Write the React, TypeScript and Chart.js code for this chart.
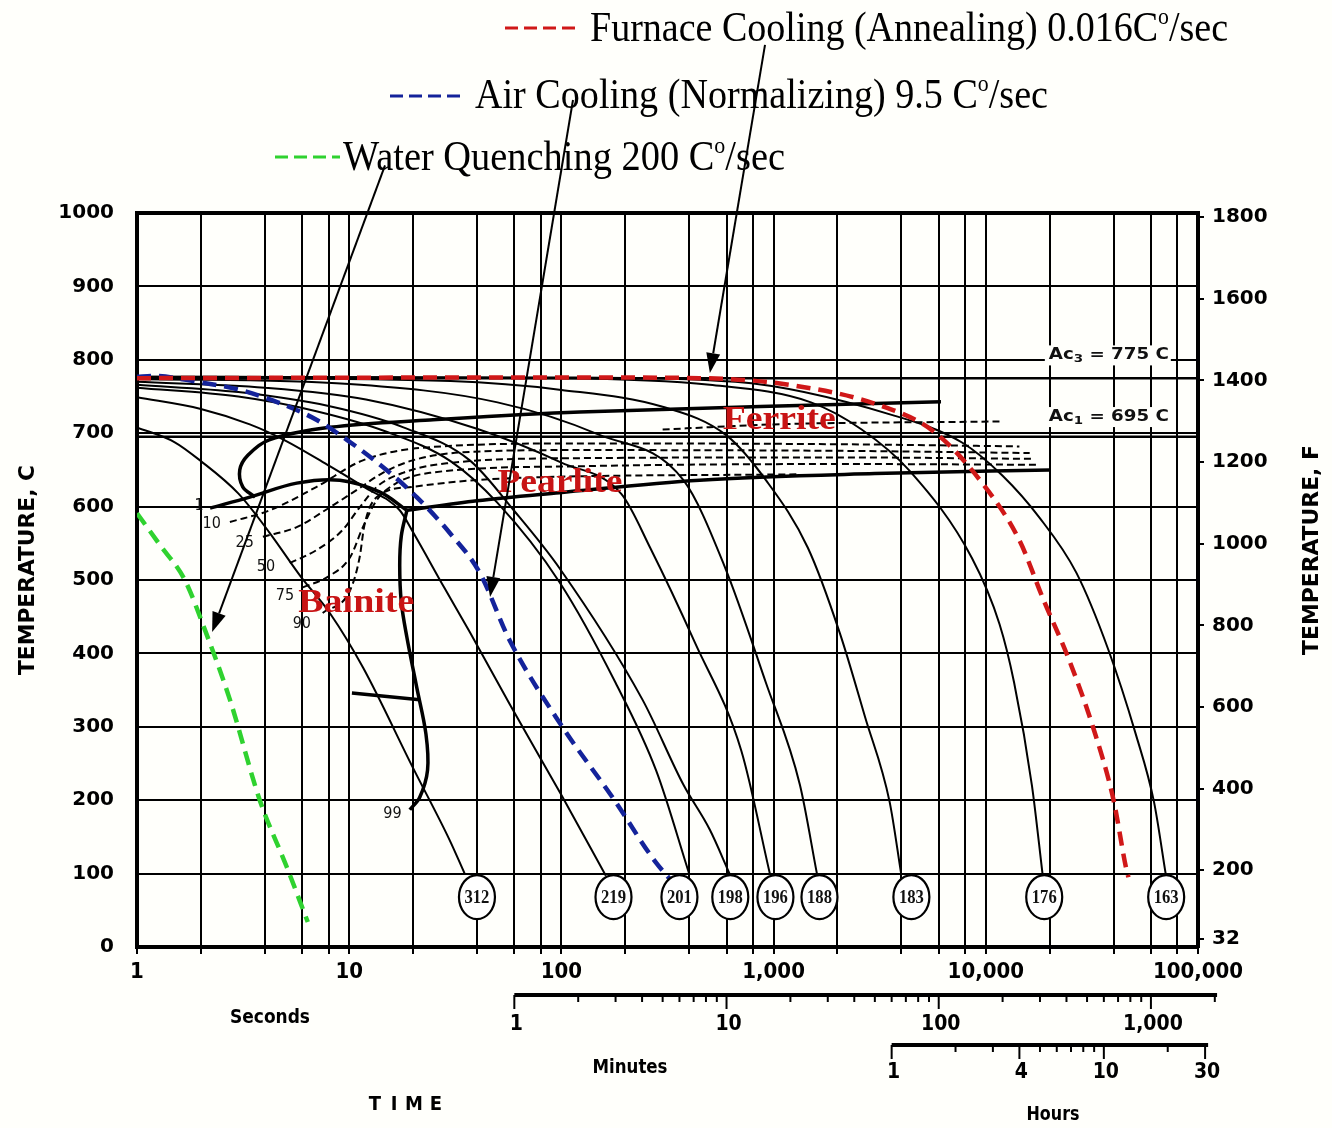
import { useEffect, useRef } from 'react';
import { Chart, registerables } from 'chart.js';

Chart.register(...registerables);

type Pt = [number, number];

// ---------- axes ----------
const timeGridSeconds = [1, 2, 4, 6, 8, 10, 20, 40, 60, 80, 100, 200, 400, 600, 800, 1000, 2000, 4000, 6000, 8000, 10000, 20000, 40000, 60000, 80000, 100000];
const decadeSeconds = [1, 10, 100, 1000, 10000, 100000];
const decadeLabels = ['1', '10', '100', '1,000', '10,000', '100,000'];
const celsiusTicks = [0, 100, 200, 300, 400, 500, 600, 700, 800, 900, 1000];
const fahrenheitTicks = [32, 200, 400, 600, 800, 1000, 1200, 1400, 1600, 1800];
const fahrenheitMin = 12;
const fahrenheitMax = 1810;
const minuteTicks = [1, 2, 3, 4, 5, 6, 7, 8, 9, 10, 20, 30, 40, 50, 60, 70, 80, 90, 100, 200, 300, 400, 500, 600, 700, 800, 900, 1000, 2000];
const minuteLabelValues = [1, 10, 100, 1000];
const minuteLabels = ['1', '10', '100', '1,000'];
const hourTicks = [1, 2, 3, 4, 5, 6, 7, 8, 9, 10, 20, 30];
const hourLabelValues = [1, 4, 10, 30];
const hourLabels = ['1', '4', '10', '30'];

// ---------- cooling paths [time s, temp C] ----------
const furnaceCooling: Pt[] = [[1, 775], [100, 776], [447, 775], [1180, 766], [3160, 738], [5700, 702], [9800, 629], [14400, 554], [18700, 473], [24700, 391], [32300, 296], [40000, 200], [45800, 108], [47000, 95]];
const airCooling: Pt[] = [[1, 777], [1.2, 778], [1.92, 770], [3.05, 759], [4.71, 741], [7.04, 718], [9.75, 691], [14.4, 654], [20.8, 613], [29.8, 564], [41.2, 510], [57, 418], [101, 300], [174, 204], [281, 114], [433, 55]];
const waterQuench: Pt[] = [[1, 591], [1.28, 548], [1.68, 500], [2.09, 432], [2.74, 337], [3.79, 200], [5.08, 109], [6.38, 34]];

const cooling312: Pt[] = [[1, 708], [1.5, 688], [2, 662], [3, 618], [4.2, 565], [5.9, 505], [8.1, 455], [11.6, 381], [19.9, 245], [29.7, 146], [35, 100]];
const cooling219: Pt[] = [[1, 749], [2, 733], [3.4, 712], [5, 690], [8.1, 655], [12, 625], [17.3, 595], [20, 565], [28, 490], [37, 429], [57, 331], [100, 207], [162, 97]];
const cooling201: Pt[] = [[1, 762], [3, 750], [7, 730], [15, 702], [30, 662], [50, 605], [98, 497], [180, 360], [280, 240], [400, 100]];
const cooling198: Pt[] = [[1, 766], [3, 756], [8, 737], [18, 708], [37, 663], [60, 594], [98, 516], [241, 337], [376, 221], [500, 160], [620, 100]];
const cooling196: Pt[] = [[1, 770], [4, 762], [12, 746], [40, 706], [100, 660], [192, 617], [262, 544], [427, 414], [705, 267], [960, 100]];
const cooling188: Pt[] = [[1, 774], [10, 767], [50, 742], [150, 698], [376, 636], [585, 520], [920, 360], [1330, 221], [1600, 100]];
const cooling183: Pt[] = [[1, 776], [30, 771], [100, 759], [300, 736], [600, 697], [920, 636], [1450, 544], [2050, 428], [2700, 313], [3520, 198], [3990, 100]];
const cooling176: Pt[] = [[1, 777], [100, 775], [500, 766], [1500, 742], [2600, 705], [4400, 648], [8600, 530], [11600, 440], [13600, 360], [16500, 220], [18500, 100]];
const cooling163: Pt[] = [[1, 777], [100, 776], [660, 770], [3600, 725], [7760, 687], [12000, 642], [17900, 585], [26700, 510], [37800, 405], [50900, 290], [62000, 198], [70400, 100]];

// ---------- transformation lines ----------
const ferriteStart: Pt[] = [[6150, 743], [122, 729], [24, 718], [8.1, 708], [4.2, 691], [3.33, 670], [3.05, 650], [3.15, 627], [3.6, 613]];
const bainiteStart: Pt[] = [[2.21, 598], [3.4, 613], [5.66, 632], [9.03, 636], [13.9, 620], [18.7, 595]];
const bainiteFinish: Pt[] = [[18.7, 595], [17.6, 560], [17.3, 520], [17.6, 470], [18.7, 422], [20.8, 354], [23, 290], [23.4, 241], [21.5, 204], [19.3, 187]];
const pearliteFinish: Pt[] = [[18.7, 595], [40, 608], [98, 619], [448, 636], [3000, 645], [20000, 650]];
const martensiteStart: Pt[] = [[10.3, 346], [21.5, 337]];
const ferriteDashed: Pt[] = [[300, 705], [1000, 712], [11600, 716]];
const pct10: Pt[] = [[2.74, 579], [4.23, 595], [7.03, 627], [11.6, 663], [24, 681], [122, 686], [2000, 685], [14400, 682]];
const pct25: Pt[] = [[3.92, 559], [5.66, 572], [8.1, 599], [10.9, 623], [14.4, 646], [19.9, 663], [34.3, 674], [122, 677], [2000, 676], [16100, 673]];
const pct50: Pt[] = [[5.25, 523], [7.04, 541], [9.3, 568], [11.2, 599], [13.5, 627], [17.9, 646], [28.8, 659], [122, 666], [2000, 667], [16900, 665]];
const pct75: Pt[] = [[6.05, 490], [8, 505], [10.1, 531], [11.6, 572], [13.5, 609], [16.7, 632], [24, 646], [122, 655], [2000, 658], [17900, 657]];
const pct90: Pt[] = [[7.5, 455], [10.1, 486], [11.2, 531], [11.8, 575], [13.5, 613], [19.9, 627], [51, 638], [1326, 644]];
const ac3Line: Pt[] = [[1, 775], [100000, 775]];
const ac1Line: Pt[] = [[1, 695], [100000, 695]];

// ---------- annotations ----------
const hardnessValues = ['312', '219', '201', '198', '196', '188', '183', '176', '163'];
const hardnessTimes = [40, 176, 360, 625, 1020, 1645, 4460, 18850, 70800];
const hardnessTemp = 68;
const pctLabels = ['1', '10', '25', '50', '75', '90', '99'];
const pctLabelPos: Pt[] = [[1.96, 601], [2.25, 577], [3.22, 550], [4.05, 518], [4.98, 478], [5.98, 440], [16.0, 181]];
const phaseNames = ['Ferrite', 'Pearlite', 'Bainite'];
const phasePos: Pt[] = [[1063, 718], [98.4, 632], [10.8, 469]];
const phaseWidths = [113, 125, 116];
const acSubs = ['3', '1'];
const acRest = [' = 775 C', ' = 695 C'];
const acLabelTemps = [806, 722];
const acLabelTime = 38000;
const legendTexts = ['Furnace Cooling (Annealing) 0.016C', 'Air Cooling (Normalizing) 9.5 C', 'Water Quenching 200 C'];
const legendColors = ['#d01818', '#14239a', '#2fd22f'];
const arrowStarts: Pt[] = [[911, 1229], [113.4, 1154], [14.75, 1065]];
const arrowTips: Pt[] = [[501, 782], [46.1, 477], [2.26, 429]];

const SANS = "'DejaVu Sans', Verdana, sans-serif";
const COND = "'DejaVu Sans Condensed', 'Liberation Sans Narrow', 'DejaVu Sans', sans-serif";
const SERIF = "'Liberation Serif', 'Times New Roman', serif";

function toXY(pts: Pt[]) {
  return pts.map(([t, T]) => ({ x: t, y: T }));
}

function line(data: Pt[], color: string, width: number, dash: number[], order: number, tension = 0.3, monotone = false) {
  return {
    data: toXY(data),
    borderColor: color,
    backgroundColor: color,
    borderWidth: width,
    borderDash: dash,
    showLine: true,
    pointRadius: 0,
    fill: false,
    tension,
    cubicInterpolationMode: monotone ? 'monotone' : 'default',
    order,
  };
}

function fitText(ctx: CanvasRenderingContext2D, text: string, cx: number, cy: number, width: number, font: string, color = '#000') {
  ctx.save();
  ctx.font = font;
  ctx.fillStyle = color;
  ctx.textBaseline = 'middle';
  ctx.textAlign = 'center';
  const w = ctx.measureText(text).width;
  ctx.translate(cx, cy);
  ctx.scale(width / w, 1);
  ctx.fillText(text, 0, 0);
  ctx.restore();
}

function drawArrow(ctx: CanvasRenderingContext2D, x0: number, y0: number, x1: number, y1: number) {
  const a = Math.atan2(y1 - y0, x1 - x0);
  const L = 20, W = 7;
  const bx = x1 - L * Math.cos(a), by = y1 - L * Math.sin(a);
  ctx.save();
  ctx.strokeStyle = '#000';
  ctx.fillStyle = '#000';
  ctx.lineWidth = 2;
  ctx.beginPath();
  ctx.moveTo(x0, y0);
  ctx.lineTo(bx, by);
  ctx.stroke();
  ctx.beginPath();
  ctx.moveTo(x1, y1);
  ctx.lineTo(bx + W * Math.sin(a), by - W * Math.cos(a));
  ctx.lineTo(bx - W * Math.sin(a), by + W * Math.cos(a));
  ctx.closePath();
  ctx.fill();
  ctx.restore();
}

const annotationPlugin = {
  id: 'cctAnnotations',
  beforeDraw(chart: any) {
    const { ctx, width, height } = chart;
    ctx.save();
    ctx.fillStyle = '#fffffb';
    ctx.fillRect(0, 0, width, height);
    ctx.restore();
  },
  afterDatasetsDraw(chart: any) {
    const { ctx } = chart;
    const x = chart.scales.x;
    const y = chart.scales.y;

    phaseNames.forEach((n, i) => {
      fitText(ctx, n, x.getPixelForValue(phasePos[i][0]), y.getPixelForValue(phasePos[i][1]), phaseWidths[i], `bold 34px ${SERIF}`, '#c81414');
    });

    pctLabels.forEach((n, i) => {
      ctx.save();
      ctx.font = `16px ${COND}`;
      ctx.fillStyle = '#111';
      ctx.textAlign = 'center';
      ctx.textBaseline = 'middle';
      ctx.fillText(n, x.getPixelForValue(pctLabelPos[i][0]), y.getPixelForValue(pctLabelPos[i][1]));
      ctx.restore();
    });

    acSubs.forEach((s, i) => {
      const cx = x.getPixelForValue(acLabelTime);
      const cy = y.getPixelForValue(acLabelTemps[i]);
      ctx.save();
      ctx.fillStyle = '#fffffb';
      ctx.fillRect(cx - 64, cy - 10, 126, 20);
      const f = `bold 15px ${COND}`;
      const fs = `bold 11px ${COND}`;
      ctx.font = f;
      const w1 = ctx.measureText('Ac').width;
      const w3 = ctx.measureText(acRest[i]).width;
      ctx.font = fs;
      const w2 = ctx.measureText(s).width;
      const total = w1 + w2 + w3;
      const sc = 120 / total;
      ctx.translate(cx - 60, cy);
      ctx.scale(sc, 1);
      ctx.fillStyle = '#111';
      ctx.textBaseline = 'middle';
      ctx.textAlign = 'left';
      ctx.font = f;
      ctx.fillText('Ac', 0, 0);
      ctx.font = fs;
      ctx.fillText(s, w1, 4);
      ctx.font = f;
      ctx.fillText(acRest[i], w1 + w2, 0);
      ctx.restore();
    });

    hardnessValues.forEach((v, i) => {
      const cx = x.getPixelForValue(hardnessTimes[i]);
      const cy = y.getPixelForValue(hardnessTemp);
      ctx.save();
      ctx.beginPath();
      ctx.ellipse(cx, cy, 18, 22, 0, 0, Math.PI * 2);
      ctx.fillStyle = '#ffffff';
      ctx.fill();
      ctx.lineWidth = 2.2;
      ctx.strokeStyle = '#000';
      ctx.stroke();
      ctx.restore();
      fitText(ctx, v, cx, cy + 1, 25, `bold 19px ${SERIF}`, '#111');
    });

    arrowStarts.forEach((s, i) => {
      drawArrow(ctx, x.getPixelForValue(s[0]), y.getPixelForValue(s[1]), x.getPixelForValue(arrowTips[i][0]), y.getPixelForValue(arrowTips[i][1]));
    });
  },
  afterDraw(chart: any) {
    const { ctx } = chart;
    const x = chart.scales.x;

    const legendGeom = [
      { x0: 590, x1: 1228, base: 41, d0: 505, d1: 578, dy: 28 },
      { x0: 475, x1: 1048, base: 108, d0: 390, d1: 463, dy: 96 },
      { x0: 343, x1: 785, base: 170, d0: 275, d1: 340, dy: 157 },
    ];
    legendTexts.forEach((txt, i) => {
      const g = legendGeom[i];
      ctx.save();
      ctx.strokeStyle = legendColors[i];
      ctx.lineWidth = 3;
      ctx.setLineDash([13, 6]);
      ctx.beginPath();
      ctx.moveTo(g.d0, g.dy);
      ctx.lineTo(g.d1, g.dy);
      ctx.stroke();
      ctx.restore();

      const size = 42;
      const f = `${size}px ${SERIF}`;
      const fs = `${Math.round(size * 0.58)}px ${SERIF}`;
      ctx.save();
      ctx.font = f;
      const w1 = ctx.measureText(txt).width;
      const w3 = ctx.measureText('/sec').width;
      ctx.font = fs;
      const w2 = ctx.measureText('o').width;
      const sc = (g.x1 - g.x0) / (w1 + w2 + w3);
      ctx.translate(g.x0, g.base);
      ctx.scale(sc, 1);
      ctx.fillStyle = '#000';
      ctx.textAlign = 'left';
      ctx.textBaseline = 'alphabetic';
      ctx.font = f;
      ctx.fillText(txt, 0, 0);
      ctx.font = fs;
      ctx.fillText('o', w1, -size * 0.4);
      ctx.font = f;
      ctx.fillText('/sec', w1 + w2, 0);
      ctx.restore();
    });

    ctx.save();
    ctx.translate(28, 570);
    ctx.rotate(-Math.PI / 2);
    fitText(ctx, 'TEMPERATURE, C', 0, 0, 210, `bold 22px ${COND}`, '#000');
    ctx.restore();
    ctx.save();
    ctx.translate(1312, 550);
    ctx.rotate(-Math.PI / 2);
    fitText(ctx, 'TEMPERATURE, F', 0, 0, 210, `bold 22px ${COND}`, '#000');
    ctx.restore();

    // minutes scale
    const minY = 995;
    const mx0 = x.getPixelForValue(60);
    const mx1 = x.getPixelForValue(60 * 2050);
    ctx.save();
    ctx.strokeStyle = '#000';
    ctx.lineWidth = 4;
    ctx.beginPath();
    ctx.moveTo(mx0, minY);
    ctx.lineTo(mx1, minY);
    ctx.stroke();
    ctx.lineWidth = 2;
    minuteTicks.forEach((m) => {
      const px = x.getPixelForValue(m * 60);
      const major = minuteLabelValues.includes(m);
      ctx.beginPath();
      ctx.moveTo(px, minY);
      ctx.lineTo(px, minY + (major ? 14 : 7));
      ctx.stroke();
    });
    ctx.restore();
    minuteLabels.forEach((l, i) => {
      ctx.save();
      ctx.font = `bold 21px ${COND}`;
      ctx.fillStyle = '#000';
      ctx.textAlign = 'center';
      ctx.textBaseline = 'middle';
      ctx.fillText(l, x.getPixelForValue(minuteLabelValues[i] * 60) + 2, 1025);
      ctx.restore();
    });

    // hours scale
    const hrY = 1045;
    const hx0 = x.getPixelForValue(3600);
    const hx1 = x.getPixelForValue(3600 * 31);
    ctx.save();
    ctx.strokeStyle = '#000';
    ctx.lineWidth = 4;
    ctx.beginPath();
    ctx.moveTo(hx0, hrY);
    ctx.lineTo(hx1, hrY);
    ctx.stroke();
    ctx.lineWidth = 2;
    hourTicks.forEach((h) => {
      const px = x.getPixelForValue(h * 3600);
      const major = hourLabelValues.includes(h);
      ctx.beginPath();
      ctx.moveTo(px, hrY);
      ctx.lineTo(px, hrY + (major ? 14 : 7));
      ctx.stroke();
    });
    ctx.restore();
    hourLabels.forEach((l, i) => {
      ctx.save();
      ctx.font = `bold 21px ${COND}`;
      ctx.fillStyle = '#000';
      ctx.textAlign = 'center';
      ctx.textBaseline = 'middle';
      ctx.fillText(l, x.getPixelForValue(hourLabelValues[i] * 3600) + 2, 1073);
      ctx.restore();
    });

    fitText(ctx, 'Seconds', 270, 1018, 80, `bold 20px ${COND}`, '#000');
    fitText(ctx, 'Minutes', 630, 1068, 75, `bold 20px ${COND}`, '#000');
    fitText(ctx, 'Hours', 1053, 1115, 53, `bold 20px ${COND}`, '#000');
    const letters = ['T', 'I', 'M', 'E'];
    const letterX = [375, 394, 414, 436];
    letters.forEach((c, i) => {
      ctx.save();
      ctx.font = `bold 20px ${COND}`;
      ctx.fillStyle = '#000';
      ctx.textAlign = 'center';
      ctx.textBaseline = 'middle';
      ctx.fillText(c, letterX[i], 1105);
      ctx.restore();
    });
  },
};

export default function App() {
  const ref = useRef<HTMLCanvasElement>(null);

  useEffect(() => {
    const canvas = ref.current;
    if (!canvas) return;
    const BLACK = '#000000';
    const thin = 2;
    const thick = 3.5;
    const dash = [7, 4];
    const colorDash = [14, 8];

    const datasets: any[] = [
      line(furnaceCooling, legendColors[0], 4.5, colorDash, 0, 0.3, true),
      line(airCooling, legendColors[1], 4.5, colorDash, 0, 0.3, true),
      line(waterQuench, legendColors[2], 4.5, colorDash, 0, 0.3, true),
      line(ferriteStart, BLACK, thick, [], 1, 0.35),
      line(bainiteStart, BLACK, thick, [], 1, 0.35),
      line(bainiteFinish, BLACK, thick, [], 1, 0.35),
      line(pearliteFinish, BLACK, thick, [], 1, 0.3, true),
      line(martensiteStart, BLACK, thick, [], 1, 0),
      line(ferriteDashed, BLACK, 2, dash, 2, 0.3, true),
      line(pct10, BLACK, 2, dash, 2, 0.3, true),
      line(pct25, BLACK, 2, dash, 2, 0.3, true),
      line(pct50, BLACK, 2, dash, 2, 0.3, true),
      line(pct75, BLACK, 2, dash, 2, 0.3, true),
      line(pct90, BLACK, 2, dash, 2, 0.3, true),
      line(cooling312, BLACK, thin, [], 3, 0.3, true),
      line(cooling219, BLACK, thin, [], 3, 0.3, true),
      line(cooling201, BLACK, thin, [], 3, 0.3, true),
      line(cooling198, BLACK, thin, [], 3, 0.3, true),
      line(cooling196, BLACK, thin, [], 3, 0.3, true),
      line(cooling188, BLACK, thin, [], 3, 0.3, true),
      line(cooling183, BLACK, thin, [], 3, 0.3, true),
      line(cooling176, BLACK, thin, [], 3, 0.3, true),
      line(cooling163, BLACK, thin, [], 3, 0.3, true),
      line(ac3Line, BLACK, 2.5, [], 4, 0),
      line(ac1Line, BLACK, 2.5, [], 4, 0),
    ];

    const chart = new Chart(canvas, {
      type: 'scatter',
      data: { datasets },
      options: {
        responsive: false,
        animation: false,
        events: [],
        devicePixelRatio: 1,
        layout: { padding: { top: 213, left: 0, right: 0, bottom: 0 } },
        plugins: { legend: { display: false }, tooltip: { enabled: false }, title: { display: false } },
        scales: {
          x: {
            type: 'logarithmic',
            position: 'bottom',
            min: 1,
            max: 100000,
            afterBuildTicks: (s: any) => {
              s.ticks = timeGridSeconds.map((v) => ({ value: v }));
            },
            afterFit: (s: any) => {
              s.height = 181;
            },
            ticks: {
              autoSkip: false,
              maxRotation: 0,
              minRotation: 0,
              padding: 5,
              color: '#000',
              font: { family: COND, size: 22, weight: 'bold' },
              callback: (v: any) => {
                const i = decadeSeconds.indexOf(Number(v));
                return i >= 0 ? decadeLabels[i] : '';
              },
            },
            grid: { color: '#000', lineWidth: 2, drawTicks: true, tickLength: 7 },
            border: { color: '#000', width: 4 },
          },
          y: {
            type: 'linear',
            position: 'left',
            min: 0,
            max: 1000,
            afterBuildTicks: (s: any) => {
              s.ticks = celsiusTicks.map((v) => ({ value: v }));
            },
            afterFit: (s: any) => {
              s.width = 137;
            },
            ticks: {
              padding: 23,
              color: '#000',
              font: { family: SANS, size: 20, weight: 'bold' },
              callback: (v: any) => String(v),
            },
            grid: {
              color: '#000',
              lineWidth: (c: any) => (c.tick && c.tick.value === 1000 ? 4 : 2),
              drawTicks: false,
            },
            border: { color: '#000', width: 4 },
          },
          y2: {
            type: 'linear',
            position: 'right',
            min: fahrenheitMin,
            max: fahrenheitMax,
            afterBuildTicks: (s: any) => {
              s.ticks = fahrenheitTicks.map((v) => ({ value: v }));
            },
            afterFit: (s: any) => {
              s.width = 134;
            },
            ticks: {
              padding: 8,
              color: '#000',
              font: { family: SANS, size: 20, weight: 'bold' },
              callback: (v: any) => String(v),
            },
            grid: { drawOnChartArea: false, color: '#000', lineWidth: 2, drawTicks: true, tickLength: 6 },
            border: { color: '#000', width: 4 },
          },
        },
      } as any,
      plugins: [annotationPlugin],
    } as any);

    return () => chart.destroy();
  }, []);

  return (
    <div style={{ position: 'absolute', left: 0, top: 0, width: 1332, height: 1128 }}>
      <canvas ref={ref} width={1332} height={1128} style={{ width: 1332, height: 1128, display: 'block' }} />
    </div>
  );
}
